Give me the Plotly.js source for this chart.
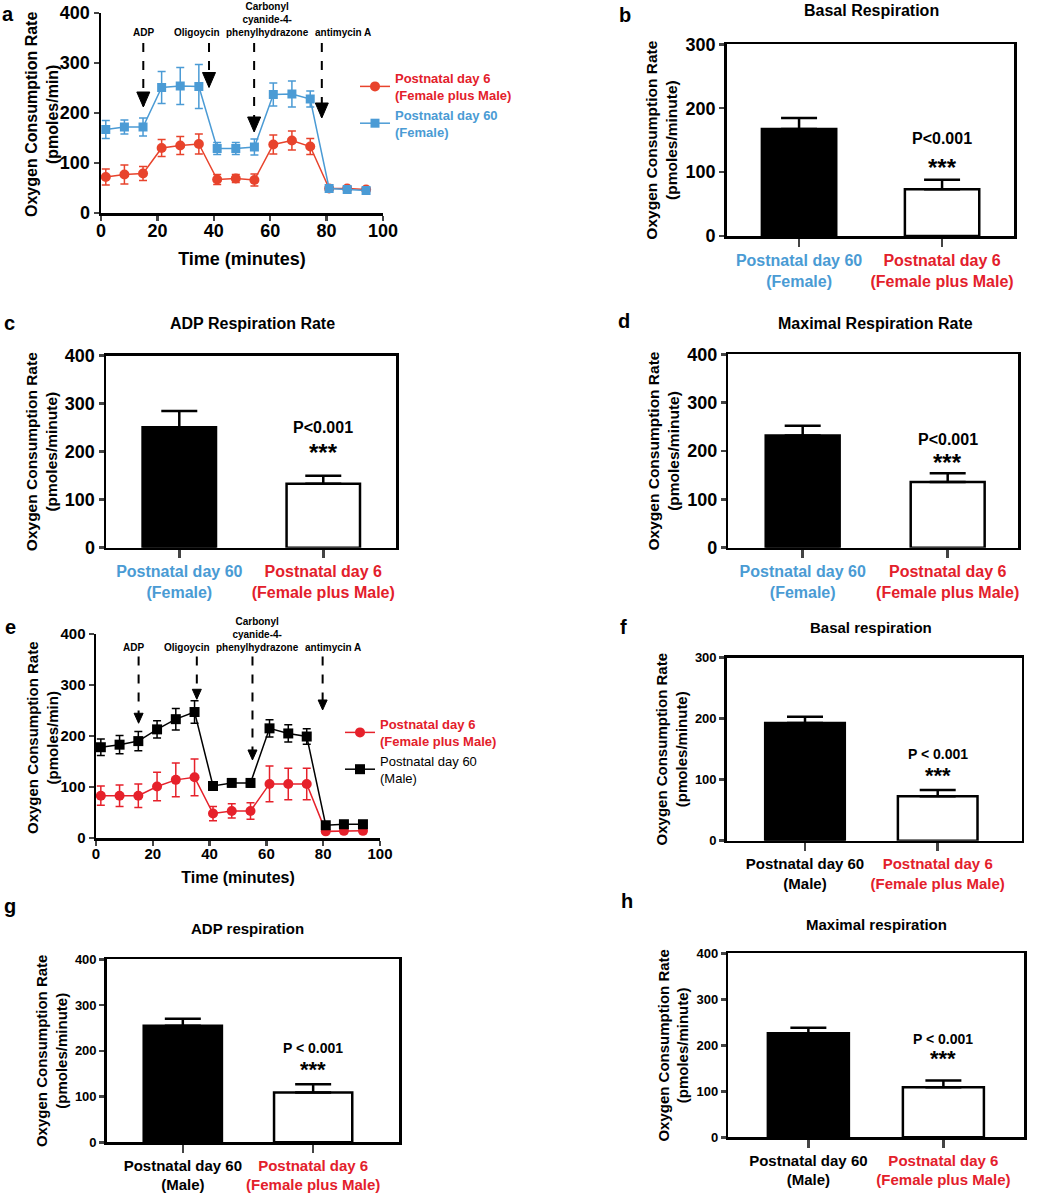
<!DOCTYPE html>
<html><head><meta charset="utf-8">
<script src="https://cdn.plot.ly/plotly-3.0.1.min.js"></script>
<style>html,body{margin:0;padding:0;background:#fff}</style>
</head><body>
<div id="chart" style="width:1045px;height:1200px"></div>
<script>
// ---------------- DATA ----------------
const timeMin = [1.7, 8.3, 14.9, 21.5, 28.1, 34.7, 41.2, 47.8, 54.4, 61.1, 67.7, 74.2, 80.9, 87.3, 94.0];

// panel a
const aDay6 = [72, 77, 79, 130, 135, 138, 67, 69, 66, 137, 145, 133, 49, 49, 47];
const aDay6Err = [16, 19, 14, 17, 18, 20, 10, 8, 12, 19, 19, 16, 4, 3, 3];
const aDay60F = [167, 172, 172, 251, 254, 253, 129, 129, 132, 237, 238, 228, 49, 47, 45];
const aDay60FErr = [18, 14, 18, 32, 37, 44, 12, 12, 16, 23, 26, 16, 3, 3, 3];
const aInjectTimes = [15, 38.3, 54.3, 78.3];

// panel e
const eDay6 = [83, 83, 83, 101, 114, 119, 48, 53, 53, 106, 106, 106, 13, 14, 14];
const eDay6Err = [19, 21, 23, 28, 33, 36, 14, 14, 16, 35, 31, 31, 3, 3, 3];
const eDay60M = [178, 183, 190, 213, 233, 247, 102, 108, 108, 215, 205, 199, 25, 27, 27];
const eDay60MErr = [16, 18, 19, 17, 21, 22, 8, 7, 8, 17, 17, 15, 3, 3, 3];
const eInjectTimes = [15, 35.5, 55.1, 79.8];

const injectLabels = ['ADP', 'Oligoycin', 'Carbonyl<br>cyanide-4-<br>phenylhydrazone', 'antimycin A'];

const seriesNames = {
  day6: 'Postnatal day 6<br>(Female plus Male)',
  day60F: 'Postnatal day 60<br>(Female)',
  day60M: 'Postnatal day 60<br>(Male)'
};

// bar panels: [Postnatal day 60, Postnatal day 6]
const barCatsFemale = ['Postnatal day 60<br>(Female)', 'Postnatal day 6<br>(Female plus Male)'];
const barCatsMale = ['Postnatal day 60<br>(Male)', 'Postnatal day 6<br>(Female plus Male)'];

const bVals = [167.5, 73];  const bErr = [17, 15];
const cVals = [251, 133];   const cErr = [34, 17];
const dVals = [232, 136];   const dErr = [20, 18];
const fVals = [193, 73];    const fErr = [10, 10];
const gVals = [255, 109];   const gErr = [15, 18];
const hVals = [226, 109];   const hErr = [12, 14.5];

const titlesBar = {
  b: 'Basal Respiration', c: 'ADP Respiration Rate', d: 'Maximal Respiration Rate',
  f: 'Basal respiration', g: 'ADP respiration', h: 'Maximal respiration'
};
const pTextWide = 'P<0.001';
const pTextSpaced = 'P < 0.001';
const starText = '***';
const lineYTitle = 'Oxygen Consumption Rate<br>(pmoles/min)';
const barYTitle = 'Oxygen Consumption Rate<br>(pmoles/minute)';

// ---------------- STYLE ----------------
const W = 1045, H = 1200;
const FONT = 'Arial, "Liberation Sans", sans-serif';
const RED_TXT = '#e3202b', BLUE_TXT = '#4a9bd4';
const RED_A = '#e8432c', BLUE_A = '#4b9bd5', RED_E = '#e6212b';
const PX = v => v / W, PY = v => 1 - v / H;

const box = {
  a: [101, 383, 13, 213], b: [726.7, 1014, 44.3, 236], c: [106, 396, 355.7, 547.7],
  d: [728.3, 1018.3, 354.3, 547.7], e: [96, 380, 634, 838], f: [726.7, 1021.7, 657.7, 840.7],
  g: [106.7, 399.3, 959.3, 1142.3], h: [728.3, 1024, 953.3, 1137.3]
};
const dom = k => ({x: [PX(box[k][0]), PX(box[k][1])], y: [PY(box[k][3]), PY(box[k][2])]});

function bold(sz, color) { return {family: FONT, size: sz, color: color || '#000', weight: 'bold'}; }

const layout = {
  width: W, height: H, margin: {l: 0, r: 0, t: 0, b: 0},
  paper_bgcolor: '#fff', plot_bgcolor: 'rgba(0,0,0,0)',
  font: {family: FONT, color: '#000'},
  showlegend: true,
  annotations: [], shapes: []
};

const traces = [];

// ---------- Line panels ----------
function linePanel(k, ax, tickSz, titleSz, ytitleSz, ytitleX, xtitleStandoff) {
  const d = dom(k);
  const sfx = ax === 1 ? '' : String(ax);
  layout['xaxis' + sfx] = {
    domain: d.x, anchor: 'y' + sfx, range: [0, 100], dtick: 20, tick0: 0,
    showline: true, linewidth: 2.5, linecolor: '#000', ticks: 'outside', ticklen: 5, tickwidth: 2.5,
    ticklabelstandoff: -5,
    showgrid: false, zeroline: false, tickfont: bold(tickSz),
    title: {text: 'Time (minutes)', font: bold(titleSz), standoff: xtitleStandoff}
  };
  layout['yaxis' + sfx] = {
    domain: d.y, anchor: 'x' + sfx, range: [0, 400], dtick: 100,
    showline: true, linewidth: 2.5, linecolor: '#000', ticks: 'outside', ticklen: 5, tickwidth: 2.5,
    showgrid: false, zeroline: false, tickfont: bold(tickSz)
  };
  layout.annotations.push({xref: 'paper', yref: 'paper', x: PX(ytitleX), y: PY((box[k][2] + box[k][3]) / 2 + 2),
    text: lineYTitle, textangle: -90, showarrow: false, xanchor: 'center', yanchor: 'middle',
    font: bold(ytitleSz), align: 'center'});
}
linePanel('a', 1, 18, 18, 16, 42, 13);
linePanel('e', 5, 15, 16, 15, 42, 12);

function lineTrace(y, err, color, sym, size, name, ax, legend) {
  const sfx = ax === 1 ? '' : String(ax);
  return {
    type: 'scatter', mode: 'lines+markers', x: timeMin, y: y,
    xaxis: 'x' + sfx, yaxis: 'y' + sfx,
    line: {color: color, width: 1.5}, marker: {color: color, symbol: sym, size: size},
    error_y: {type: 'data', array: err, visible: true, color: color, thickness: 1.5, width: 4},
    name: name, legend: legend, cliponaxis: false
  };
}
traces.push(lineTrace(aDay6, aDay6Err, RED_A, 'circle', 10,
  '<span style="color:' + RED_TXT + '"><b>' + seriesNames.day6 + '</b></span>', 1, 'legend'));
traces.push(lineTrace(aDay60F, aDay60FErr, BLUE_A, 'square', 9,
  '<span style="color:' + BLUE_TXT + '"><b>' + seriesNames.day60F + '</b></span>', 1, 'legend'));
traces.push(lineTrace(eDay6, eDay6Err, RED_E, 'circle', 10,
  '<span style="color:' + RED_TXT + '"><b>' + seriesNames.day6 + '</b></span>', 5, 'legend2'));
traces.push(lineTrace(eDay60M, eDay60MErr, '#000', 'square', 10, seriesNames.day60M, 5, 'legend2'));

layout.legend = {x: PX(355), y: PY(63), xanchor: 'left', yanchor: 'top', font: {family: FONT, size: 13},
  bgcolor: 'rgba(0,0,0,0)', itemwidth: 30};
layout.legend2 = {x: PX(340), y: PY(709), xanchor: 'left', yanchor: 'top', font: {family: FONT, size: 13, color: '#000'},
  bgcolor: 'rgba(0,0,0,0)', itemwidth: 30};

// injection arrows
function arrows(times, xref, yref, topVal, tips, head) {
  times.forEach((t, i) => {
    layout.shapes.push({type: 'line', xref: xref, yref: yref, x0: t, x1: t, y0: topVal, y1: tips[i] + 2,
      line: {color: '#000', width: 2, dash: 'dash'}});
    layout.shapes.push({type: 'path', xref: xref, yref: yref, xsizemode: 'pixel', ysizemode: 'pixel',
      xanchor: t, yanchor: tips[i],
      path: 'M 0 0 L ' + (-head[0]) + ' ' + head[1] + ' L ' + head[0] + ' ' + head[1] + ' Z',
      fillcolor: '#000', line: {color: '#000', width: 1}});
  });
}
arrows(aInjectTimes, 'x', 'y', 340, [212, 251, 162, 190], [6.5, 15]);
arrows(eInjectTimes, 'x5', 'y5', 356, [225, 272, 153, 251], [4.5, 10]);

function injLabels(xref, xs, anchors, yBottom, size) {
  injectLabels.forEach((t, i) => {
    layout.annotations.push({xref: xref, yref: 'paper', x: xs[i], y: PY(yBottom), text: t,
      showarrow: false, xanchor: anchors[i], yanchor: 'bottom', font: bold(size), align: 'center'});
  });
}
injLabels('x', [15, 43.0, 59.2, 75.0], ['center', 'right', 'center', 'left'], 40, 10);
injLabels('x5', [13.2, 40.8, 57.0, 72.8], ['center', 'right', 'center', 'left'], 655, 10);

// ---------- Bar panels ----------
function barPanel(k, ax, cats, vals, err, xr, ymax, tickSz, catSz, ytitleSz, barW, titleSz, pText, pSz, starSz, titlePos, pY, starY) {
  const d = dom(k);
  const xs = 'x' + ax, ys = 'y' + ax;
  layout['xaxis' + ax] = {
    domain: d.x, anchor: ys, range: xr, tickvals: [0, 1],
    ticktext: cats.map((c, i) => i === 1 ? '<span style="color:' + RED_TXT + '">' + c + '</span>'
      : (cats === barCatsFemale ? '<span style="color:' + BLUE_TXT + '">' + c + '</span>' : c)),
    showline: true, mirror: true, linewidth: 2.5, linecolor: '#000', ticks: 'outside', ticklen: 8, tickwidth: 2.5,
    showgrid: false, zeroline: false, tickfont: bold(catSz)
  };
  layout['yaxis' + ax] = {
    domain: d.y, anchor: xs, range: [0, ymax], dtick: 100,
    showline: true, mirror: true, linewidth: 2.5, linecolor: '#000', ticks: 'outside', ticklen: 5, tickwidth: 2.5,
    showgrid: false, zeroline: false, tickfont: bold(tickSz),
    title: {text: barYTitle, font: bold(ytitleSz), standoff: 4}
  };
  traces.push({
    type: 'bar', x: [0, 1], y: vals, xaxis: xs, yaxis: ys, width: barW, showlegend: false,
    marker: {color: ['#000', '#fff'], line: {color: '#000', width: 2.5}},
    error_y: {type: 'data', symmetric: false, array: err, arrayminus: [0, 0], visible: true,
      color: '#000', thickness: 2.5, width: 18}
  });
  layout.annotations.push({xref: 'paper', yref: 'paper', x: PX(titlePos[0]), y: PY(titlePos[1]),
    text: titlesBar[k], showarrow: false, xanchor: 'center', yanchor: 'middle', font: bold(titleSz)});
  layout.annotations.push({xref: xs, yref: 'paper', x: 1, y: PY(pY), text: pText, showarrow: false,
    xanchor: 'center', yanchor: 'middle', font: bold(pSz)});
  layout.annotations.push({xref: xs, yref: 'paper', x: 1, y: PY(starY), text: starText, showarrow: false,
    xanchor: 'center', yanchor: 'middle', font: bold(starSz)});
}
barPanel('b', 2, barCatsFemale, bVals, bErr, [-0.506, 1.503], 300, 18, 16, 15.5, 0.52, 16, pTextWide, 16, 24, [871, 11], 138, 167);
barPanel('c', 3, barCatsFemale, cVals, cErr, [-0.509, 1.505], 400, 18, 16, 15.5, 0.51, 16, pTextWide, 16, 24, [252, 323], 427, 452);
barPanel('d', 4, barCatsFemale, dVals, dErr, [-0.513, 1.487], 400, 18, 16, 15.5, 0.51, 16, pTextWide, 16, 24, [875, 323], 439, 462);
barPanel('f', 6, barCatsMale, fVals, fErr, [-0.59, 1.633], 300, 13, 15, 15, 0.6, 15, pTextSpaced, 14, 22, [871, 627], 754, 775);
barPanel('g', 7, barCatsMale, gVals, gErr, [-0.584, 1.661], 400, 13, 15, 15, 0.6, 15, pTextSpaced, 14, 22, [247, 928], 1048, 1069);
barPanel('h', 8, barCatsMale, hVals, hErr, [-0.593, 1.597], 400, 13, 15, 15, 0.6, 15, pTextSpaced, 14, 22, [876, 924], 1039, 1058);

// panel letters
[['a', 8, 14], ['b', 625, 15], ['c', 9, 323], ['d', 624, 321], ['e', 10, 627],
 ['f', 623, 627], ['g', 10, 906], ['h', 627, 901]].forEach(p => {
  layout.annotations.push({xref: 'paper', yref: 'paper', x: PX(p[1]), y: PY(p[2]), text: p[0],
    showarrow: false, xanchor: 'center', yanchor: 'middle', font: bold(20)});
});

Plotly.newPlot('chart', traces, layout, {staticPlot: true});
</script>
</body></html>
